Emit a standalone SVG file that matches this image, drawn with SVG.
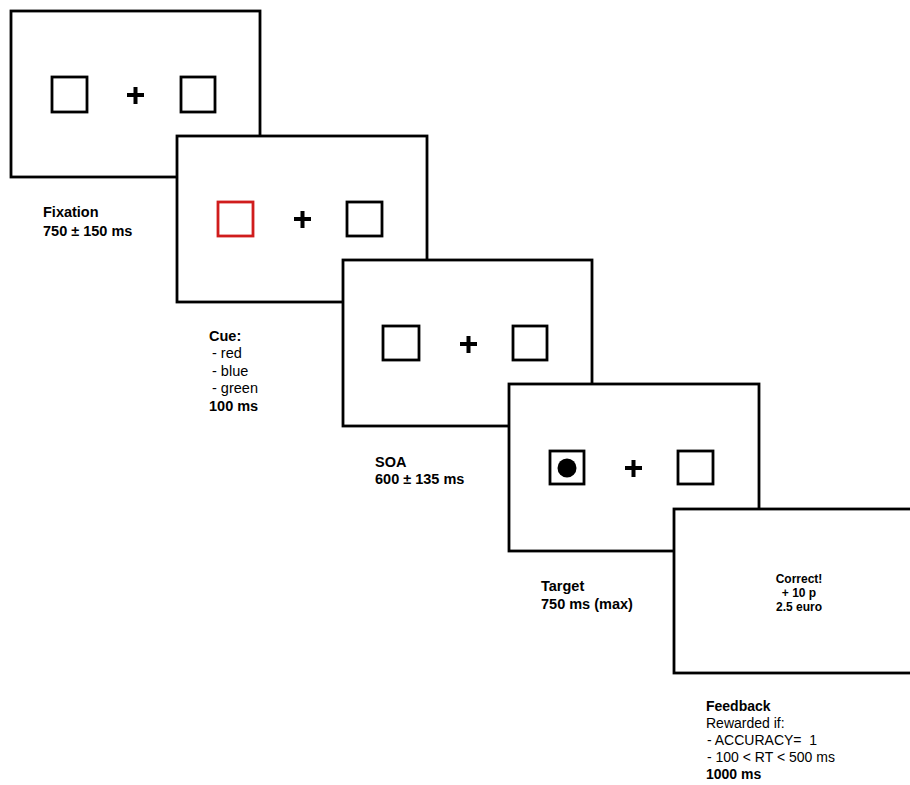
<svg xmlns="http://www.w3.org/2000/svg" width="910" height="785" viewBox="0 0 910 785">
<style>
.scr{fill:#fff;stroke:#000;stroke-width:2.8}
.box{fill:none;stroke:#000;stroke-width:2.8}
.red{fill:none;stroke:#d01c1c;stroke-width:2.8}
.plus{stroke:#000;stroke-width:4;fill:none}
text{font-family:"Liberation Sans",Arial,sans-serif;fill:#000}
.lb{font-size:14.5px;font-weight:bold}
.ln{font-size:14.5px}
.fb{font-size:12px;font-weight:bold}
</style>
<rect width="910" height="785" fill="#fff"/>
<g id="fixation">
<rect class="scr" x="11" y="11" width="249" height="166"/>
<rect class="box" x="52" y="77" width="35" height="35"/>
<path class="plus" d="M127 95h17M135.5 87v17"/>
<rect class="box" x="181" y="77" width="34" height="35"/>
<text class="lb" x="43" y="217">Fixation</text>
<text class="lb" x="43" y="236">750 ± 150 ms</text>
</g>
<g id="cue">
<rect class="scr" x="177" y="136" width="250" height="166"/>
<rect class="red" x="218" y="202" width="35" height="34"/>
<path class="plus" d="M294 219h17M302.5 211v17"/>
<rect class="box" x="347" y="202" width="35" height="34"/>
<text class="lb" x="209" y="341">Cue:</text>
<text class="ln" x="212" y="358">- red</text>
<text class="ln" x="212" y="376">- blue</text>
<text class="ln" x="212" y="393">- green</text>
<text class="lb" x="209" y="411">100 ms</text>
</g>
<g id="soa">
<rect class="scr" x="343" y="260" width="249" height="166"/>
<rect class="box" x="383" y="326" width="36" height="34"/>
<path class="plus" d="M460 344h17M468.5 336v17"/>
<rect class="box" x="513" y="326" width="34" height="34"/>
<text class="lb" x="375" y="467">SOA</text>
<text class="lb" x="375" y="484">600 ± 135 ms</text>
</g>
<g id="target">
<rect class="scr" x="509" y="384" width="250" height="167"/>
<rect class="box" x="550" y="451" width="34" height="33"/>
<circle cx="567" cy="468" r="9.5" fill="#000"/>
<path class="plus" d="M625 468h17M633.5 460v17"/>
<rect class="box" x="678" y="451" width="35" height="33"/>
<text class="lb" x="541" y="591">Target</text>
<text class="lb" x="541" y="609">750 ms (max)</text>
</g>
<g id="feedback">
<rect class="scr" x="674" y="509" width="250" height="164"/>
<text class="fb" x="799" y="583" text-anchor="middle">Correct!</text>
<text class="fb" x="799" y="597" text-anchor="middle">+ 10 p</text>
<text class="fb" x="799" y="611" text-anchor="middle">2.5 euro</text>
<g style="font-size:14px">
<text x="706" y="711" style="font-weight:bold">Feedback</text>
<text x="706" y="728">Rewarded if:</text>
<text x="707" y="745">- ACCURACY=&#160; 1</text>
<text x="707" y="762">- 100 &lt; RT &lt; 500 ms</text>
<text x="706" y="779" style="font-weight:bold">1000 ms</text>
</g>
</g>
<g id="connectors"/>
</svg>
